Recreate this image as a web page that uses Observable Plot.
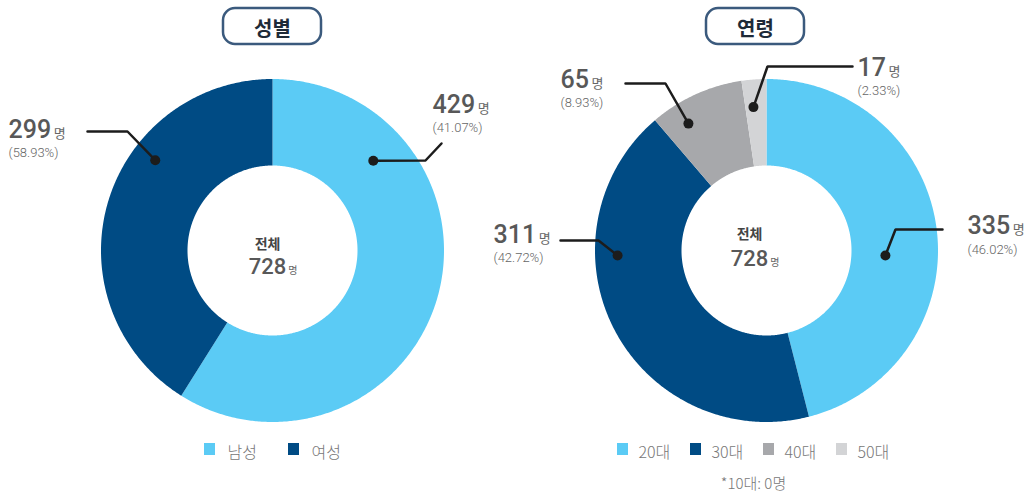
<!DOCTYPE html>
<html><head><meta charset="utf-8">
<script src="https://cdn.jsdelivr.net/npm/d3@7"></script>
<script src="https://cdn.jsdelivr.net/npm/@observablehq/plot@0.6"></script>
<style>html,body{margin:0;padding:0;background:#fff}svg{display:block}</style>
</head><body><div id="chart"></div>
<script>
// ---------- data ----------
const chartTitles = ["성별", "연령"];
const genderCategories = ["남성", "여성"];
const genderCounts = [429, 299];
const genderPercentLabels = ["(41.07%)", "(58.93%)"];
const ageCategories = ["20대", "30대", "40대", "50대"];
const ageCounts = [335, 311, 65, 17];
const agePercentLabels = ["(46.02%)", "(42.72%)", "(8.93%)", "(2.33%)"];
const totalLabel = "전체";
const totalCount = 728;
const unitLabel = "명";
const footnote = "*10대: 0명";
const sliceColors = ["#5bcbf5", "#004b84", "#a7a8ab", "#d3d4d6"];

// ---------- layout ----------
const W = 1033, H = 493;
const FONT_NUM = "Roboto, 'Noto Sans CJK KR', sans-serif";
const FONT_KR = "'Noto Sans CJK KR', 'Noto Sans', sans-serif";
const charts = [
  {title: chartTitles[0], cats: genderCategories, counts: genderCounts, pcts: genderPercentLabels,
   cx: 272, cy: 250, R: 171.5, r: 85, titleX: 272, totalX: 267, totalY: [248, 273],
   legendX: 204, legendStep: 84, legendOff: 23,
   ann: [
     {angle: 48.3, rad: 135, elbow: [425, 160], end: [441, 143], labelX: 432, numY: 112, pctY: 131},
     {angle: 307.6, rad: 148, elbow: [127, 131], end: [87, 131], labelX: 8, numY: 137, pctY: 156}
   ]},
  {title: chartTitles[1], cats: ageCategories, counts: ageCounts, pcts: agePercentLabels,
   cx: 766, cy: 250, R: 171.5, r: 85, titleX: 755, totalX: 749, totalY: [238, 265],
   legendX: 617, legendStep: 73, legendOff: 21,
   ann: [
     {angle: 92.4, rad: 119, elbow: [895, 229], end: [942, 229], labelX: 967, numY: 233, pctY: 253},
     {angle: 268.1, rad: 149, elbow: [598, 240], end: [560, 240], labelX: 493, numY: 242, pctY: 261},
     {angle: 328.4, rad: 149, elbow: [665, 83], end: [625, 83], labelX: 560, numY: 87, pctY: 106},
     {angle: 354.8, rad: 144, elbow: [767, 66], end: [852, 66], labelX: 857, numY: 75, pctY: 94}
   ]}
];

const ctx = document.createElement("canvas").getContext("2d");
function textWidth(t, font) { ctx.font = font; return ctx.measureText(t).width; }
const NUM_SIZE = 25, NUM_FONT = `500 ${NUM_SIZE}px Roboto`;
const TOT_SIZE = 22, TOT_FONT = `500 ${TOT_SIZE}px Roboto`;

// ---------- build rows ----------
const pieGen = d3.pie().sort(null).value(d => d);
const wedgePts = [], dots = [], leaders = [], numLabels = [], unitLabels = [], pctLabels = [];
const titleRows = [], totalRows = [], totalUnitRows = [], legendRows = [];
charts.forEach((c, ci) => {
  const arcs = pieGen(c.counts);
  arcs.forEach((a, i) => {
    const a0 = a.startAngle, a1 = a.endAngle;
    const n = Math.max(2, Math.ceil((a1 - a0) / (Math.PI / 360)));
    for (let k = 0; k <= n; k++) { const t = a0 + (a1 - a0) * k / n; wedgePts.push({cat: c.cats[i], x: c.cx + c.R * Math.sin(t), y: c.cy - c.R * Math.cos(t)}); }
    for (let k = n; k >= 0; k--) { const t = a0 + (a1 - a0) * k / n; wedgePts.push({cat: c.cats[i], x: c.cx + c.r * Math.sin(t), y: c.cy - c.r * Math.cos(t)}); }
    const an = c.ann[i];
    const t = an.angle * Math.PI / 180;
    const dx = c.cx + an.rad * Math.sin(t), dy = c.cy - an.rad * Math.cos(t);
    const id = c.cats[i];
    dots.push({x: dx, y: dy});
    leaders.push({id, x: dx, y: dy}, {id, x: an.elbow[0], y: an.elbow[1]}, {id, x: an.end[0], y: an.end[1]});
    const numText = String(c.counts[i]);
    numLabels.push({x: an.labelX, y: an.numY, text: numText});
    unitLabels.push({x: an.labelX + textWidth(numText, NUM_FONT) + 2.5, y: an.numY, text: unitLabel});
    pctLabels.push({x: an.labelX, y: an.pctY, text: c.pcts[i]});
    legendRows.push({cat: c.cats[i], x1: c.legendX + i * c.legendStep, y1: 443, y2: 455, tx: c.legendX + i * c.legendStep + c.legendOff, ty: 457});
  });
  titleRows.push({x: c.titleX, x1: c.titleX - 49, x2: c.titleX + 49, y1: 8, y2: 44, ty: 35, text: c.title});
  totalRows.push({x: c.totalX, y1: c.totalY[0], y2: c.totalY[1], label: totalLabel, num: String(totalCount)});
  totalUnitRows.push({x: c.totalX + textWidth(String(totalCount), TOT_FONT) / 2 + 2, y: c.totalY[1], text: unitLabel});
});
legendRows.forEach(d => d.x2 = d.x1 + 11);
const footRows = [{x: 753, y: 488, text: footnote}];

const allCats = [...genderCategories, ...ageCategories];
const allColors = [sliceColors[0], sliceColors[1], ...sliceColors];

const plot = Plot.plot({
  width: W, height: H, margin: 0,
  x: {type: "linear", domain: [0, W], range: [0, W], axis: null},
  y: {type: "linear", domain: [0, H], range: [0, H], axis: null},
  color: {domain: allCats, range: allColors},
  style: {background: "#fff"},
  marks: [
    Plot.line(wedgePts, {x: "x", y: "y", z: "cat", fill: "cat", stroke: "none", curve: "linear"}),
    Plot.line(leaders, {x: "x", y: "y", z: "id", stroke: "#1c1c1c", strokeWidth: 2.5, strokeLinejoin: "miter"}),
    Plot.dot(dots, {x: "x", y: "y", r: 5, fill: "#1c1c1c", stroke: "none"}),
    Plot.text(numLabels, {x: "x", y: "y", text: "text", textAnchor: "start", lineAnchor: "bottom", fontFamily: FONT_NUM, fontSize: NUM_SIZE, fontWeight: 500, fill: "#585858"}),
    Plot.text(unitLabels, {x: "x", y: "y", text: "text", textAnchor: "start", lineAnchor: "bottom", fontFamily: FONT_KR, fontSize: 13, fill: "#666"}),
    Plot.text(pctLabels, {x: "x", y: "y", text: "text", textAnchor: "start", lineAnchor: "bottom", fontFamily: FONT_NUM, fontSize: 13, fontWeight: 300, fill: "#666"}),
    Plot.rect(titleRows, {x1: "x1", x2: "x2", y1: "y1", y2: "y2", rx: 12, fill: "#fff", stroke: "#3b5a7d", strokeWidth: 2.5}),
    Plot.text(titleRows, {x: "x", y: "ty", text: "text", lineAnchor: "bottom", fontFamily: FONT_KR, fontSize: 20, fontWeight: 700, fill: "#1e2a38"}),
    Plot.text(totalRows, {x: "x", y: "y1", text: "label", lineAnchor: "bottom", fontFamily: FONT_KR, fontSize: 14, fontWeight: 700, fill: "#444"}),
    Plot.text(totalRows, {x: "x", y: "y2", text: "num", lineAnchor: "bottom", fontFamily: FONT_NUM, fontSize: TOT_SIZE, fontWeight: 500, fill: "#585858"}),
    Plot.text(totalUnitRows, {x: "x", y: "y", text: "text", textAnchor: "start", lineAnchor: "bottom", fontFamily: FONT_KR, fontSize: 10, fill: "#666"}),
    Plot.rect(legendRows, {x1: "x1", x2: "x2", y1: "y1", y2: "y2", fill: "cat"}),
    Plot.text(legendRows, {x: "tx", y: "ty", text: "cat", textAnchor: "start", lineAnchor: "bottom", fontFamily: FONT_KR, fontSize: 16, fontWeight: 300, fill: "#777"}),
    Plot.text(footRows, {x: "x", y: "y", text: "text", lineAnchor: "bottom", fontFamily: FONT_KR, fontSize: 15, fontWeight: 300, fill: "#777"})
  ]
});
document.getElementById("chart").appendChild(plot);
</script>
</body></html>
